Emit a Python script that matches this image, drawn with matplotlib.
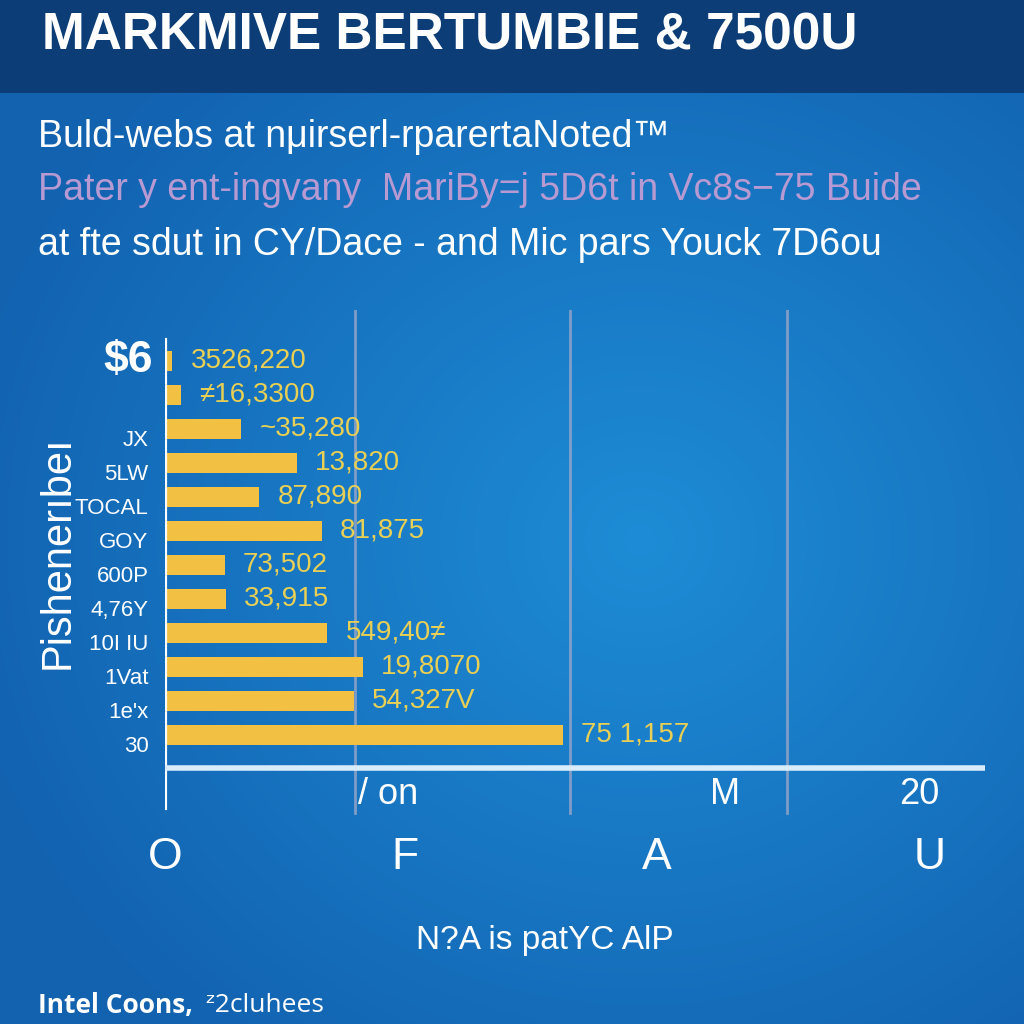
import numpy as np
import matplotlib
matplotlib.use("Agg")
from matplotlib import pyplot as plt

# data
bar_values = [0.9, 2.0, 9.3, 16.1, 11.5, 19.1, 7.3, 7.4, 19.8, 24.1, 23.0, 48.5]
value_labels = ["3526,220", "≠16,3300", "~35,280", "13,820", "87,890", "81,875",
                "73,502", "33,915", "549,40≠", "19,8070", "54,327V", "75 1,157"]
cat_labels = ["JX", "5LW", "TOCAL", "GOY", "600P", "4,76Y", "10I IU", "1Vat", "1e'x", "30"]
grid_x = [23.2, 49.4, 75.9]
tick_row1 = [(27.2, "/ on"), (68.3, "M"), (92.0, "20")]
tick_row2 = [(0, "O"), (29.3, "F"), (60.0, "A"), (93.3, "U")]

sans = ["Liberation Sans", "DejaVu Sans"]

fig = plt.figure(figsize=(10.24, 10.24), dpi=100)

# background
bg = fig.add_axes([0, 0, 1, 1])
yy, xx = np.mgrid[0:1024, 0:1024]
d = np.sqrt(((xx - 640) / 700.0) ** 2 + ((yy - 540) / 650.0) ** 2)
d = np.clip(d, 0, 1)
c_in = np.array([0x1e, 0x8c, 0xd6]) / 255
c_out = np.array([0x12, 0x62, 0xb0]) / 255
img = c_in[None, None, :] * (1 - d[..., None]) + c_out[None, None, :] * d[..., None]
img[:93] = np.array([0x0c, 0x3d, 0x76]) / 255
bg.imshow(img, extent=[0, 1024, 1024, 0], aspect="auto")
bg.set_xlim(0, 1024)
bg.set_ylim(1024, 0)
bg.axis("off")

# texts
bg.text(42, 50, "MARKMIVE BERTUMBIE & 7500U", color="white", fontsize=37,
        fontweight="bold", family=sans, va="baseline", ha="left")
bg.text(38, 137, "Buld-webs at nμirserl-rparertaNoted™", color="white",
        fontsize=27, family=sans, va="center")
bg.text(38, 190, "Pater y ent-ingvany  MariBy=j 5D6t in Vc8s−75 Buide", color="#b79ad2",
        fontsize=27, family=sans, va="center")
bg.text(38, 245, "at fte sdut in CY/Dace - and Mic pars Youck 7D6ou", color="white",
        fontsize=27, family=sans, va="center")
bg.text(38, 1005, "Intel Coons,", color="white", fontsize=19, fontweight="bold",
        family=["Open Sans", "DejaVu Sans"], va="center")
bg.text(205, 1005, "ᶻ2cluhees", color="white", fontsize=19,
        family=["Open Sans", "DejaVu Sans"], va="center")
bg.text(545, 940, "N?A is patYC AlP", color="white", fontsize=24, family=sans,
        va="center", ha="center")
bg.text(58, 552, "Pishenerıbeı", color="white", fontsize=30, rotation=90,
        family=sans, va="center", ha="center")

# chart
ax = fig.add_axes([165 / 1024, 1 - 840 / 1024, 820 / 1024, 530 / 1024])
ax.patch.set_alpha(0)
for s in ax.spines.values():
    s.set_visible(False)
ax.set_xlim(0, 100)
ax.set_ylim(14.09, -1.5)
ax.set_xticks([])
ax.set_yticks([])

pos = np.arange(len(bar_values))
for gx in grid_x:
    ax.plot([gx, gx], [-1.5, 13.3], color="#9aa6c8", lw=2, alpha=0.8)
ax.barh(pos, bar_values, height=0.6, color="#f2c043", zorder=3)
for p, v, lab in zip(pos, bar_values, value_labels):
    ax.text(v + 2.2, p, lab, color="#e8cf55", fontsize=20, family=sans,
            va="center", ha="left", zorder=4)
ax.plot([0, 0], [-0.62, 13.15], color="white", lw=3, zorder=5)
ax.plot([0, 100], [11.97, 11.97], color="#d8ecfa", lw=4, zorder=5)

ax.text(-1.5, 0, "$6", color="white", fontsize=32, fontweight="bold", family=sans,
        ha="right", va="center")
for i, lab in enumerate(cat_labels):
    ax.text(-2.0, i + 2.35, lab, color="white", fontsize=16, family=sans,
            ha="right", va="center")
for x, lab in tick_row1:
    ax.text(x, 12.76, lab, color="white", fontsize=26, family=sans,
            ha="center", va="center")
for x, lab in tick_row2:
    ax.text(x, 14.6, lab, color="white", fontsize=32, family=sans,
            ha="center", va="center", clip_on=False)

fig.savefig("out.png", dpi=100)
